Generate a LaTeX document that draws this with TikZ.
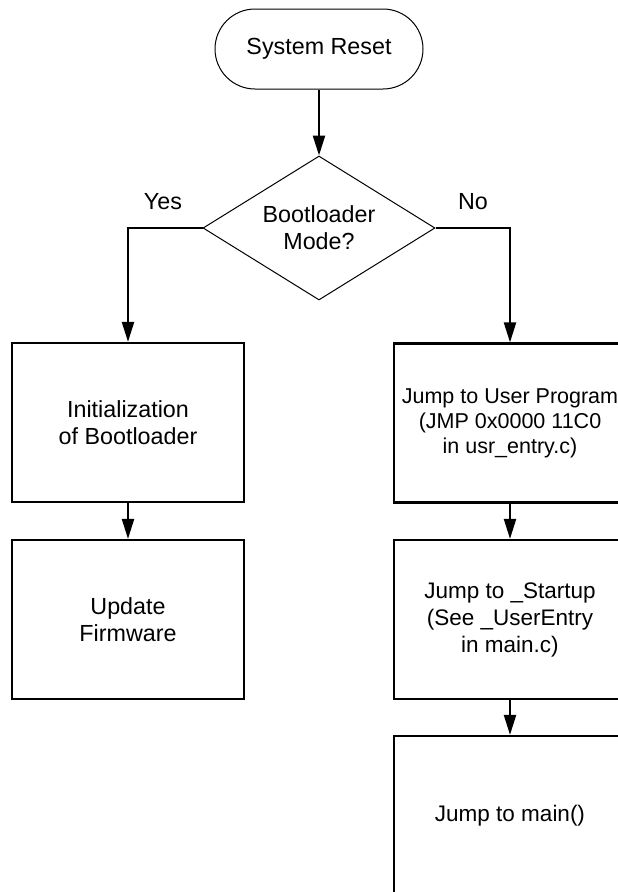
\documentclass[tikz,border=0pt]{standalone}
\usepackage{fontspec}
\setmainfont{Liberation Sans}
\usetikzlibrary{arrows.meta,shapes.geometric}
\begin{document}
\begin{tikzpicture}[x=1pt,y=-1pt,
  every node/.style={font=\fontsize{23.3}{27}\selectfont, align=center},
  procbox/.style={draw, line width=2.2pt, minimum width=232pt, minimum height=159pt, inner sep=0pt},
  termbox/.style={draw, line width=1pt, rounded corners=40pt, minimum width=208pt, minimum height=80pt, inner sep=0pt},
  decbox/.style={draw, diamond, line width=1pt, minimum width=232pt, minimum height=144pt, aspect=1.61, inner sep=0pt},
  flow/.style={line width=2.2pt, -{Triangle[length=20pt,width=12pt]}}
]
\path[use as bounding box, clip] (0,0) rectangle (618,892);
\fill[white] (0,0) rectangle (618,892);
\node[termbox] (start) at (319,49) {System Reset};
\node[decbox] (dec) at (319,228) {Bootloader\\Mode?};
\node[procbox] (init) at (128,422.5) {Initialization\\of Bootloader};
\node[procbox] (upd) at (128,619.5) {Update\\Firmware};
\node[procbox, font=\fontsize{21.5}{25}\selectfont] (jmp1) at (510,423) {Jump to User Program\\(JMP 0x0000 11C0\\in usr\_entry.c)};
\node[procbox, font=\fontsize{22.5}{27}\selectfont] (jmp2) at (510,619.5) {Jump to \_Startup\\(See \_UserEntry\\in main.c)};
\node[procbox, font=\fontsize{22.5}{27}\selectfont] (jmp3) at (510,815.5) {Jump to main()};
\node (yes) at (163,202) {Yes};
\node (no) at (473,202) {No};
\draw[flow] (start.south) -- (dec.north);
\draw[flow] (dec.west) -| (init.north);
\draw[flow] (dec.east) -| (jmp1.north);
\draw[flow] (init.south) -- (upd.north);
\draw[flow] (jmp1.south) -- (jmp2.north);
\draw[flow] (jmp2.south) -- (jmp3.north);
\end{tikzpicture}
\end{document}
